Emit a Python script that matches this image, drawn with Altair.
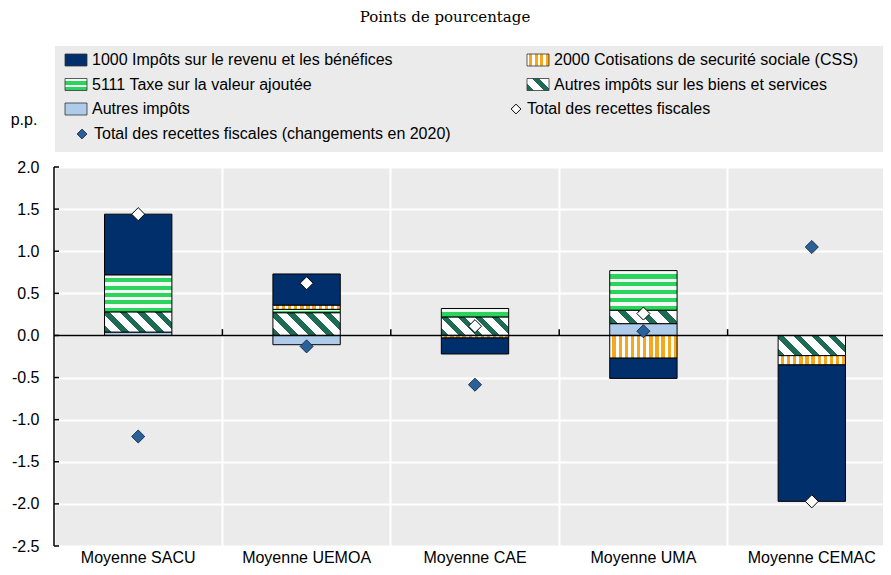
import altair as alt
import pandas as pd

# ---------------- data ----------------
cats = ["Moyenne SACU", "Moyenne UEMOA", "Moyenne CAE", "Moyenne UMA", "Moyenne CEMAC"]

s_1000 = "1000 Impôts sur le revenu et les bénéfices"
s_2000 = "2000 Cotisations de securité sociale (CSS)"
s_5111 = "5111 Taxe sur la valeur ajoutée"
s_abs = "Autres impôts sur les biens et services"
s_aut = "Autres impôts"
s_tot = "Total des recettes fiscales"
s_tot20 = "Total des recettes fiscales (changements en 2020)"

impots_1000 = [0.72, 0.37, -0.19, -0.24, -1.62]
css_2000 = [0.0, 0.05, -0.03, -0.27, -0.11]
tva_5111 = [0.44, 0.04, 0.10, 0.47, 0.0]
autres_biens = [0.24, 0.27, 0.22, 0.16, -0.24]
autres_impots = [0.04, -0.11, 0.0, 0.14, 0.0]
total = [1.44, 0.62, 0.11, 0.26, -1.97]
total_2020 = [-1.20, -0.13, -0.585, 0.05, 1.05]

yticks = [-2.5, -2.0, -1.5, -1.0, -0.5, 0.0, 0.5, 1.0, 1.5, 2.0]

# ---------------- geometry / styles ----------------
W, H = 829, 379
XRANGE = 842
PX = H / 4.5
BAR_W = 0.4 * XRANGE / 5

NAVY = "#002F6C"
GREEN = "#2CD35C"
ORANGE = "#F5A81E"
DKGREEN = "#1E6B55"
LTBLUE = "#AECCEA"
DIAM_BLUE = "#2B6199"


def stripe_grad(c1, c2, n, frac, x1, y1, x2, y2):
    stops = []
    for i in range(n):
        a, b, c = i / n, (i + frac) / n, (i + 1) / n
        stops += [{"offset": round(a, 4), "color": c1}, {"offset": round(b, 4), "color": c1},
                  {"offset": round(b, 4), "color": c2}, {"offset": round(c, 4), "color": c2}]
    return {"gradient": "linear", "x1": x1, "y1": y1, "x2": x2, "y2": y2, "stops": stops}


def pattern(kind, w, h):
    if kind == "1000":
        return NAVY
    if kind == "css":
        n = max(1, round(w / 6))
        return stripe_grad("#FFFFFF", ORANGE, n, 0.45, 0, 0, 1, 0)
    if kind == "tva":
        n = max(1, round(h / 8))
        return stripe_grad("#F2FBF4", GREEN, n, 0.45, 0, 0, 0, 1)
    if kind == "abs":
        n = max(1, round((w + h) / 18))
        k = (w + h) / (w * w + h * h)
        return stripe_grad(DKGREEN, "#FFFFFF", n, 0.42, 0, 1, k * w, 1 - k * h)
    return LTBLUE


series = [
    ("autres", s_aut, autres_impots, 0),
    ("abs", s_abs, autres_biens, 1),
    ("tva", s_5111, tva_5111, 2),
    ("css", s_2000, css_2000, 3),
    ("1000", s_1000, impots_1000, 4),
]

rows, conds = [], []
for kind, name, vals, order in series:
    for cat, v in zip(cats, vals):
        if v == 0:
            continue
        k = len(rows)
        rows.append({"cat": cat, "serie": name, "v": v, "ord": order, "k": k})
        conds.append({"test": f"datum.k === {k}", "value": pattern(kind, BAR_W, abs(v) * PX)})
df = pd.DataFrame(rows)

df_pts = pd.DataFrame({"cat": cats, "total": total, "total_2020": total_2020})
df_ticks = pd.DataFrame({"t": yticks})
df_bound = pd.DataFrame({"cat": cats[1:], "z": [0.0] * 4})
one = pd.DataFrame({"d": [0]})

xscale = alt.Scale(type="band", domain=cats, range=[0, XRANGE], paddingInner=0, paddingOuter=0)
xaxis = alt.Axis(domain=False, ticks=False, grid=True, gridColor="white", gridWidth=2,
                 bandPosition=0, labelAngle=0, labelPadding=3, labelFontSize=16,
                 labelFont="Liberation Sans", labelColor="black", title=None)
yscale = alt.Scale(domain=[-2.5, 2.0], nice=False, zero=False)
yaxis = alt.Axis(values=yticks, domain=False, ticks=False, grid=True, gridColor="white",
                 gridWidth=2, labelPadding=15, labelFontSize=16, labelFont="Liberation Sans",
                 labelColor="black", title=None,
                 labelExpr="replace(format(datum.value, '.1f'), '\u2212', '-')")


def X():
    return alt.X("cat:N", scale=xscale, axis=xaxis, title=None)


def Y(f):
    return alt.Y(f, type="quantitative", scale=yscale, axis=yaxis, title=None)


bars = alt.Chart(df).mark_bar(width=alt.RelativeBandSize(0.4), stroke="black", strokeWidth=1).encode(
    x=X(),
    y=alt.Y("v:Q", scale=yscale, axis=yaxis, title=None, stack="zero"),
    detail="serie:N",
    order=alt.Order("ord:Q", sort="ascending"),
    fill=alt.FillValue(value=NAVY, condition=conds),
)

zero_line = alt.Chart(one).mark_rule(color="black", strokeWidth=1.5).encode(y=alt.datum(0))
y_line = alt.Chart(one).mark_rule(color="black", strokeWidth=1.5).encode(x=alt.value(0))
y_ticks = alt.Chart(df_ticks).mark_rule(color="black", strokeWidth=1.5).encode(
    y=Y("t"), x=alt.value(0), x2=alt.value(5))
bound_ticks = alt.Chart(df_bound).mark_rule(color="black", strokeWidth=1.5).encode(
    x=alt.X("cat:N", scale=xscale, axis=xaxis, title=None, bandPosition=0),
    y=Y("z"), y2=alt.datum(0.075))

pts_tot = alt.Chart(df_pts).mark_point(shape="diamond", filled=True, size=170, fill="white",
                                       stroke="black", strokeWidth=1, opacity=1).encode(
    x=X(), y=Y("total"))
pts_20 = alt.Chart(df_pts).mark_point(shape="diamond", filled=True, size=170, fill=DIAM_BLUE,
                                      stroke="#1B2F4F", strokeWidth=1, opacity=1).encode(
    x=X(), y=Y("total_2020"))

# ---------------- custom legend ----------------
layers_leg = [
    alt.Chart(one).mark_rect(color="#EBEBEB").encode(
        x=alt.value(1), x2=alt.value(W), y=alt.value(-121), y2=alt.value(-15)),
    alt.Chart(one).mark_text(fontSize=16, font="Liberation Sans", color="black").encode(
        x=alt.value(-30), y=alt.value(-47), text=alt.value("p.p.")),
    alt.Chart(one).mark_text(fontSize=15, font="DejaVu Serif", color="black").encode(
        x=alt.value(391), y=alt.value(-150), text=alt.value("Points de pourcentage")),
]


def leg_rect(kind, x0, yc, label):
    sw, sh = 22, 12
    fill = pattern(kind, sw, sh)
    r = alt.Chart(one).mark_rect(stroke="#333333", strokeWidth=0.8).encode(
        x=alt.value(x0), x2=alt.value(x0 + sw), y=alt.value(yc - sh / 2), y2=alt.value(yc + sh / 2),
        fill=alt.FillValue(value=fill))
    t = alt.Chart(one).mark_text(align="left", baseline="middle", fontSize=16,
                                 font="Liberation Sans", color="black").encode(
        x=alt.value(x0 + sw + 5), y=alt.value(yc), text=alt.value(label))
    return [r, t]


def leg_diam(fill, stroke, xc, yc, tx, label):
    d = alt.Chart(one).mark_point(shape="diamond", filled=True, size=95, fill=fill, stroke=stroke,
                                  strokeWidth=1, opacity=1).encode(x=alt.value(xc), y=alt.value(yc))
    t = alt.Chart(one).mark_text(align="left", baseline="middle", fontSize=16,
                                 font="Liberation Sans", color="black").encode(
        x=alt.value(tx), y=alt.value(yc), text=alt.value(label))
    return [d, t]


R1, R2, R3, R4 = -107, -82.5, -58, -33
layers_leg += leg_rect("1000", 11, R1, s_1000)
layers_leg += leg_rect("css", 473, R1, s_2000)
layers_leg += leg_rect("tva", 11, R2, s_5111)
layers_leg += leg_rect("abs", 473, R2, s_abs)
layers_leg += leg_rect("autres", 11, R3, s_aut)
layers_leg += leg_diam("white", "black", 462, R3, 473, s_tot)
layers_leg += leg_diam(DIAM_BLUE, "#1B2F4F", 28, R4, 40, s_tot20)

chart = alt.layer(
    bars, zero_line, bound_ticks, y_line, y_ticks, pts_tot, pts_20, *layers_leg
).properties(
    width=W, height=H,
    autosize=alt.AutoSizeParams(type="none"),
    padding={"left": 46, "top": 159, "right": 0, "bottom": 21},
    background="white",
).configure_view(fill="#EBEBEB", stroke=None)

chart.save("out.html", embed_options={"renderer": "svg", "actions": False})
